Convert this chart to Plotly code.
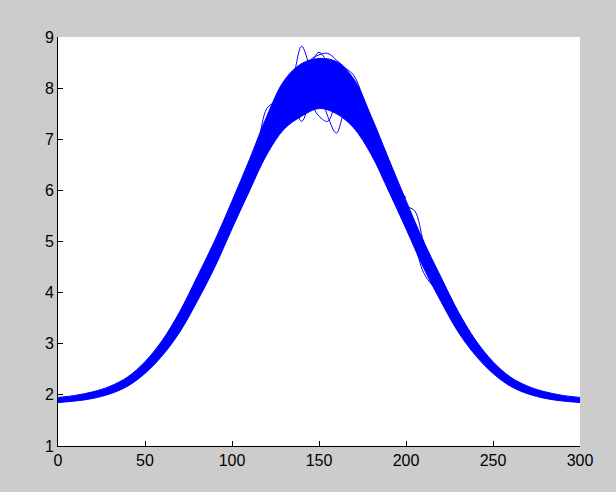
import plotly.graph_objects as go

# Envelope of the dense bundle of curves (x step 10)
x_band = [0, 10, 20, 30, 40, 50, 60, 70, 80, 90, 100, 110, 120, 130, 140, 150,
          160, 170, 180, 190, 200, 210, 220, 230, 240, 250, 260, 270, 280, 290, 300]
band_lower = [1.85, 1.88, 1.93, 2.02, 2.17, 2.42, 2.77, 3.23, 3.83, 4.49, 5.25, 5.99, 6.70, 7.20, 7.45, 7.60,
              7.50, 7.22, 6.70, 5.99, 5.25, 4.49, 3.83, 3.23, 2.77, 2.42, 2.17, 2.02, 1.93, 1.88, 1.85]
band_upper = [1.95, 1.99, 2.06, 2.17, 2.35, 2.65, 3.07, 3.63, 4.31, 5.01, 5.79, 6.60, 7.45, 8.15, 8.48, 8.58,
              8.52, 8.18, 7.45, 6.62, 5.80, 5.01, 4.31, 3.63, 3.07, 2.65, 2.35, 2.17, 2.06, 1.99, 1.95]

# Individual curves that stray outside the bundle near the peak (x step 5)
x_peak = [100, 105, 110, 115, 120, 125, 130, 135, 140, 145, 150, 155, 160, 165, 170, 175, 180, 185, 190, 195, 200]
curve_a = [5.55, 5.95, 6.35, 6.75, 7.15, 7.50, 7.85, 8.20, 8.82, 8.40, 8.10, 8.25, 8.15, 7.90, 7.60, 7.35, 7.05, 6.70, 6.30, 5.95, 5.55]
curve_b = [5.50, 5.88, 6.25, 6.62, 7.00, 7.30, 7.55, 7.85, 8.10, 8.25, 8.00, 7.45, 7.12, 7.55, 7.65, 7.40, 7.05, 6.70, 6.30, 5.90, 5.50]
curve_c = [5.48, 5.85, 6.22, 6.60, 6.95, 7.25, 7.50, 7.65, 7.35, 7.80, 8.35, 8.30, 8.05, 7.85, 7.65, 7.35, 7.00, 6.62, 6.25, 5.88, 5.50]
curve_d = [5.70, 6.10, 6.50, 6.95, 7.60, 7.75, 8.05, 8.25, 8.35, 8.45, 8.50, 8.40, 8.20, 8.05, 7.85, 7.55, 7.20, 6.85, 6.45, 6.05, 5.65]
curve_e = [5.60, 5.95, 6.30, 6.70, 7.05, 7.40, 7.75, 8.05, 8.30, 8.55, 8.65, 8.68, 8.55, 8.40, 8.25, 7.85, 7.35, 6.85, 6.50, 6.10, 5.75]
curve_f = [5.50, 5.90, 6.30, 6.70, 7.05, 7.40, 7.70, 7.95, 8.15, 8.30, 8.35, 8.30, 8.20, 8.05, 7.85, 7.60, 7.35, 6.85, 6.60, 6.10, 5.85]
curve_g = [5.30, 5.65, 6.00, 6.45, 6.80, 7.05, 7.35, 7.60, 7.85, 7.95, 8.05, 8.00, 7.90, 7.70, 7.50, 7.20, 6.90, 6.50, 6.10, 5.70, 5.30]
curve_h = [5.55, 5.92, 6.30, 6.70, 7.08, 7.40, 7.70, 7.95, 8.20, 8.45, 8.70, 8.50, 8.25, 7.95, 7.70, 7.40, 7.05, 6.68, 6.30, 5.92, 5.55]
curve_i = [5.45, 5.85, 6.25, 6.62, 7.00, 7.30, 7.55, 7.75, 7.85, 7.70, 7.45, 7.35, 7.70, 7.80, 7.55, 7.25, 6.95, 6.55, 6.15, 5.75, 5.40]
peak_curves = [curve_a, curve_b, curve_c, curve_d, curve_e, curve_f, curve_g, curve_h, curve_i]

# Curves with small loops on the right flank (x step 5)
x_flank = [170, 175, 180, 185, 190, 195, 200, 205, 210, 215, 220, 225, 230]
curve_j = [7.60, 7.35, 7.05, 6.70, 6.30, 5.95, 5.70, 5.60, 5.00, 4.50, 4.10, 3.75, 3.43]
curve_k = [7.58, 7.30, 6.95, 6.55, 6.20, 5.80, 5.40, 4.95, 4.40, 4.15, 4.00, 3.72, 3.43]
flank_curves = [curve_j, curve_k]

x_ticks = [0, 50, 100, 150, 200, 250, 300]
y_ticks = [1, 2, 3, 4, 5, 6, 7, 8, 9]

BLUE = "#0000ff"
fig = go.Figure()
fig.add_trace(go.Scatter(x=x_band, y=band_lower, mode="lines",
                         line=dict(color=BLUE, width=1, shape="spline"),
                         showlegend=False, hoverinfo="skip"))
fig.add_trace(go.Scatter(x=x_band, y=band_upper, mode="lines", fill="tonexty",
                         fillcolor=BLUE, line=dict(color=BLUE, width=1, shape="spline"),
                         showlegend=False, hoverinfo="skip"))
for c in peak_curves:
    fig.add_trace(go.Scatter(x=x_peak, y=c, mode="lines",
                             line=dict(color=BLUE, width=1, shape="spline"),
                             showlegend=False))
for c in flank_curves:
    fig.add_trace(go.Scatter(x=x_flank, y=c, mode="lines",
                             line=dict(color=BLUE, width=1, shape="spline"),
                             showlegend=False))

axis_common = dict(showgrid=False, zeroline=False, showline=True, linecolor="black",
                   linewidth=1, ticks="inside", ticklen=5, tickcolor="black",
                   mirror=False, tickfont=dict(family="Liberation Sans, Arial", size=16, color="black"))
fig.update_layout(
    width=616, height=492,
    margin=dict(l=58, r=36, t=37, b=46),
    paper_bgcolor="#cccccc", plot_bgcolor="white",
    xaxis=dict(range=[0, 300], tickvals=x_ticks, **axis_common),
    yaxis=dict(range=[1, 9], tickvals=y_ticks, **axis_common),
    showlegend=False,
)
fig.write_html("out.html", config={"displayModeBar": False},
               post_script="document.body.style.margin='0';document.body.style.background='#cccccc';")
